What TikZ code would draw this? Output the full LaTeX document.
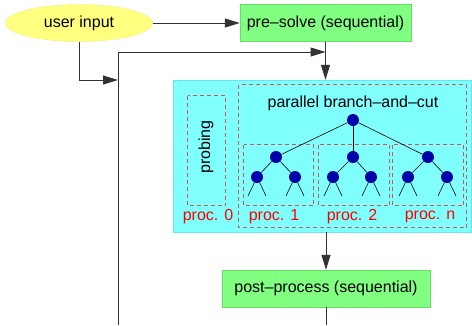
\documentclass[tikz,border=0pt]{standalone}
\usepackage{fontspec}
\setmainfont{Liberation Sans}
\usepackage{tikz}
\usetikzlibrary{arrows.meta,shapes.geometric}
\definecolor{lemon}{HTML}{FFFF80}
\definecolor{lemonrule}{HTML}{EEEE70}
\definecolor{mint}{HTML}{80FF80}
\definecolor{mintrule}{HTML}{66DD66}
\definecolor{aqua}{HTML}{80FFFF}
\definecolor{aquarule}{HTML}{66E6F0}
\definecolor{cagered}{HTML}{CC5555}
\definecolor{nodeblue}{HTML}{0000AA}
\definecolor{ink}{HTML}{333333}
\tikzset{
  flow/.style={draw=ink,line width=1pt,-{Triangle[length=15pt,width=9pt]}},
  stage/.style={draw=mintrule,fill=mint,minimum height=37pt,inner sep=0pt},
  cage/.style={draw=cagered,dash pattern=on 4pt off 3pt,line width=0.8pt},
  bb/.style={circle,fill=nodeblue,inner sep=0pt,minimum size=12pt},
  proclab/.style={text=red},
}
\begin{document}
\begin{tikzpicture}[x=1pt,y=-1pt,font=\fontsize{16}{19}\selectfont]
  \useasboundingbox (0,0) rectangle (472,325);
  % stages
  \node[ellipse,draw=lemonrule,fill=lemon,minimum width=147pt,minimum height=37pt,inner sep=0pt]
      (user) at (79,23) {user input};
  \node[stage,minimum width=171pt] (pre) at (325.5,23) {pre–solve (sequential)};
  \node[draw=aquarule,fill=aqua,minimum width=298pt,minimum height=152pt,inner sep=0pt]
      (par) at (322,156) {};
  \node[stage,minimum width=208pt] (post) at (326,288.5) {post–process (sequential)};
  % dashed groups
  \draw[cage] (238.5,84.5) rectangle (466.5,227.5);
  \draw[cage] (187.5,95.5) rectangle (225.5,205.5);
  \foreach \xa/\xb in {243/313,318/389,392/463}{
    \draw[cage] (\xa+0.5,144.5) rectangle (\xb+0.5,205.5);}
  \node[rotate=90] (probe) at (206,147) {probing};
  \node (pbc) at (353,103) {parallel branch–and–cut};
  \node[proclab] (p0) at (208,217) {proc. 0};
  \foreach \n/\x in {1/274,2/352,n/430}{
    \node[proclab] (p\n) at (\x,217) {proc. \n};}
  % search tree
  \node[bb] (root) at (353,120) {};
  \foreach \i/\x/\l/\r in {1/276/257/295,2/353/333/371,3/428/408/447}{
    \node[bb] (c\i) at (\x,157) {};
    \draw[line width=0.6pt] (root) -- (c\i);
    \foreach \j/\g in {a/\l,b/\r}{
      \node[bb] (c\i\j) at (\g,177) {};
      \draw[line width=0.6pt] (c\i) -- (c\i\j);
      \coordinate (c\i\j l) at (\g-9,196);
      \coordinate (c\i\j r) at (\g+9,196);
      \draw[line width=0.6pt] (c\i\j) -- (c\i\j l);
      \draw[line width=0.6pt] (c\i\j) -- (c\i\j r);
    }
  }
  % connectors
  \coordinate (loopbot) at (118,325);
  \coordinate (loopin) at (118,80);
  \coordinate (join) at (325.5,52);
  \coordinate (postbot) at (326,325);
  \draw[flow] (user) -- (pre);
  \draw[flow] (pre.south) -- (pre.south |- par.north);
  \draw[flow] (user.south) |- (loopin);
  \draw[flow] (loopbot) |- (join);
  \draw[flow] (post.north |- par.south) -- (post.north);
  \draw[draw=ink,line width=1pt] (post.south) -- (postbot);
\end{tikzpicture}
\end{document}
